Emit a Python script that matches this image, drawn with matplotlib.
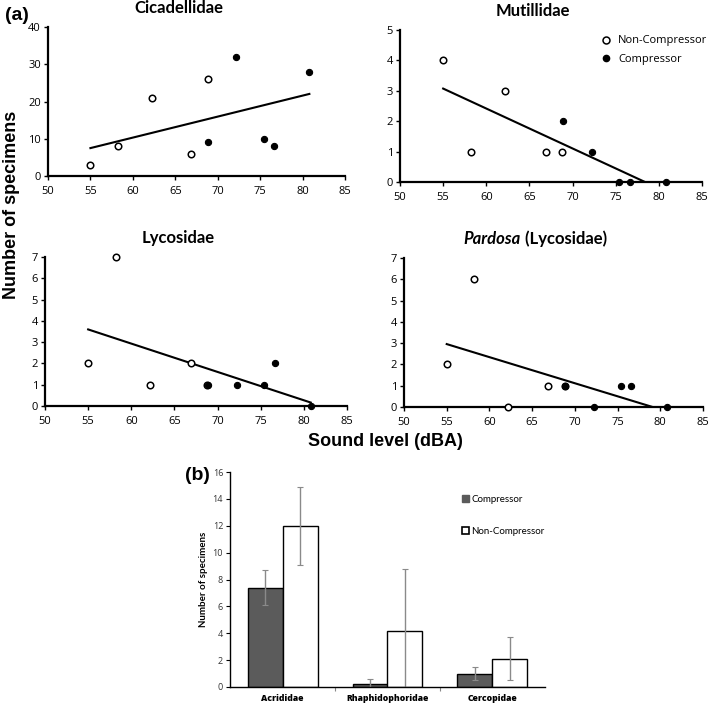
import numpy as np
import matplotlib
matplotlib.use("Agg")
import matplotlib.pyplot as plt
from matplotlib.lines import Line2D
from matplotlib.patches import Patch
from matplotlib.transforms import ScaledTranslation

# ---------------- data ----------------
sound_nc = [55.0, 58.2, 62.2, 66.9, 68.8]      # non-compressor sites
sound_c = [68.9, 72.2, 75.4, 76.6, 80.8]       # compressor sites

cicad_nc = [3, 8, 21, 6, 26]
cicad_c = [9, 32, 10, 8, 28]
mutil_nc = [4, 1, 3, 1, 1]
mutil_c = [2, 1, 0, 0, 0]
lycos_nc = [2, 7, 1, 2, 1]
lycos_c = [1, 1, 1, 2, 0]
pardo_nc = [2, 6, 0, 1, 1]
pardo_c = [1, 0, 1, 1, 0]

bar_categories = ["Acrididae", "Rhaphidophoridae", "Cercopidae"]
bar_comp = [7.4, 0.2, 1.0]
bar_comp_err = [1.3, 0.4, 0.5]
bar_noncomp = [12.0, 4.2, 2.1]
bar_noncomp_err = [2.9, 4.6, 1.6]

# ---------------- figure ----------------
W, H = 709, 705
fig = plt.figure(figsize=(W / 100, H / 100), dpi=100)
tickfont = "Open Sans"
titlefont = "Lato"
title_off = ScaledTranslation(0, 19 / 100, fig.dpi_scale_trans)


def px_axes(left, right, top, bottom):
    return fig.add_axes([left / W, 1 - bottom / H, (right - left) / W, (bottom - top) / H])


def scatter_panel(ax, ync, yc, ymax, ystep, title):
    xs = np.array(sound_nc + sound_c)
    ys = np.array(ync + yc, dtype=float)
    k, b = np.polyfit(xs, ys, 1)
    x0 = xs.min()
    x1 = xs.max()
    if k < 0 and -b / k < x1:
        x1 = -b / k
    ax.plot([x0, x1], [k * x0 + b, k * x1 + b], color="black", lw=1.5, zorder=2)
    ax.scatter(sound_nc, ync, s=22, facecolor="white", edgecolor="black", lw=1.1, zorder=3, clip_on=False)
    ax.scatter(sound_c, yc, s=20, facecolor="black", edgecolor="black", lw=0.8, zorder=3, clip_on=False)
    ax.set_xlim(50, 85)
    ax.set_ylim(0, ymax)
    ax.set_xticks(np.arange(50, 86, 5))
    ax.set_yticks(np.arange(0, ymax + 0.1, ystep))
    for s in ["top", "right"]:
        ax.spines[s].set_visible(False)
    for s in ["left", "bottom"]:
        ax.spines[s].set_linewidth(1.6)
    ax.tick_params(direction="out", length=3, width=1, labelsize=8, pad=2)
    ax.tick_params(axis="x", pad=4)
    for lab in ax.get_xticklabels() + ax.get_yticklabels():
        lab.set_fontfamily(tickfont)
    if title:
        ax.text(0.44, 1.0, title, transform=ax.transAxes + title_off, ha="center", va="center",
                fontsize=12, fontweight="bold", fontfamily=titlefont)


ax1 = px_axes(48, 345, 27, 176)
scatter_panel(ax1, cicad_nc, cicad_c, 40, 10, "Cicadellidae")
ax2 = px_axes(400, 702, 30, 182)
scatter_panel(ax2, mutil_nc, mutil_c, 5, 1, "Mutillidae")
ax3 = px_axes(45, 347, 257, 406)
scatter_panel(ax3, lycos_nc, lycos_c, 7, 1, "Lycosidae")
ax4 = px_axes(404, 703, 258, 407)
scatter_panel(ax4, pardo_nc, pardo_c, 7, 1, None)
ax4.text(0.39, 1.0, "Pardosa", transform=ax4.transAxes + title_off, ha="right", va="center",
         fontsize=12, fontweight="bold", fontstyle="italic", fontfamily=titlefont)
ax4.text(0.39, 1.0, " (Lycosidae)", transform=ax4.transAxes + title_off, ha="left", va="center",
         fontsize=12, fontweight="bold", fontfamily=titlefont)

# legend for (a)
handles = [Line2D([], [], marker="o", ls="none", mfc="white", mec="black", ms=5, mew=1.1),
           Line2D([], [], marker="o", ls="none", mfc="black", mec="black", ms=4.5)]
leg = ax2.legend(handles, ["Non-Compressor", "Compressor"], loc="upper left",
                 bbox_to_anchor=(0.63, 1.03), frameon=False,
                 handlelength=1.0, handletextpad=0.6, labelspacing=0.7,
                 prop={"family": "Open Sans", "size": 8})

fig.text(5 / W, 1 - 16 / H, "(a)", fontsize=14, fontweight="bold", fontfamily="Liberation Sans",
         ha="left", va="center")
fig.text(12 / W, 1 - 205 / H, "Number of specimens", fontsize=13, fontweight="bold",
         fontfamily="Liberation Sans", rotation=90, ha="center", va="center")
fig.text(385 / W, 1 - 442 / H, "Sound level (dBA)", fontsize=13, fontweight="bold",
         fontfamily="Liberation Sans", ha="center", va="center")

# ---------------- (b) bar chart ----------------
axb = px_axes(230, 545, 472, 687)
x = np.arange(len(bar_categories))
wbar = 1 / 3
ekw = dict(ecolor="#8a8a8a", elinewidth=1.0, capsize=2, capthick=0.8)
axb.bar(x - wbar / 2, bar_comp, width=wbar, color="#5b5b5b", edgecolor="black", lw=1.0,
        yerr=bar_comp_err, error_kw=ekw, label="Compressor", zorder=2)
axb.bar(x + wbar / 2, bar_noncomp, width=wbar, color="white", edgecolor="black", lw=1.0,
        yerr=bar_noncomp_err, error_kw=ekw, label="Non-Compressor", zorder=2)
axb.set_xlim(-0.5, 2.5)
axb.set_ylim(0, 16)
axb.set_yticks(np.arange(0, 17, 2))
axb.set_xticks([0.5, 1.5], minor=True)
axb.tick_params(axis="x", which="major", length=0, pad=5)
axb.tick_params(axis="x", which="minor", length=3, width=0.8, color="#888888")
axb.tick_params(axis="y", direction="out", length=3, width=0.8, labelsize=6.5, labelcolor="#333333", pad=2)
axb.set_xticks(x)
axb.set_xticklabels(bar_categories, fontsize=6.2, fontweight="heavy", fontfamily="Open Sans")
for lab in axb.get_yticklabels():
    lab.set_fontfamily("Open Sans")
for s in ["top", "right"]:
    axb.spines[s].set_visible(False)
axb.spines["left"].set_linewidth(1.0)
axb.spines["bottom"].set_linewidth(1.0)
axb.set_ylabel("Number of specimens", fontsize=7, fontweight="bold", fontfamily=titlefont, labelpad=3)

bh = [Patch(facecolor="#5b5b5b", edgecolor="#5b5b5b"), Patch(facecolor="white", edgecolor="black", lw=1.2)]
fig.legend(bh, ["Compressor", "Non-Compressor"], loc="upper left",
           bbox_to_anchor=(453 / W, 1 - 486 / H), frameon=False,
           handlelength=0.7, handleheight=0.7, handletextpad=0.3, labelspacing=2.4,
           prop={"family": titlefont, "size": 7})

fig.text(185 / W, 1 - 475 / H, "(b)", fontsize=14, fontweight="bold", fontfamily="Liberation Sans",
         ha="left", va="center")

fig.savefig("out.png", dpi=100)
